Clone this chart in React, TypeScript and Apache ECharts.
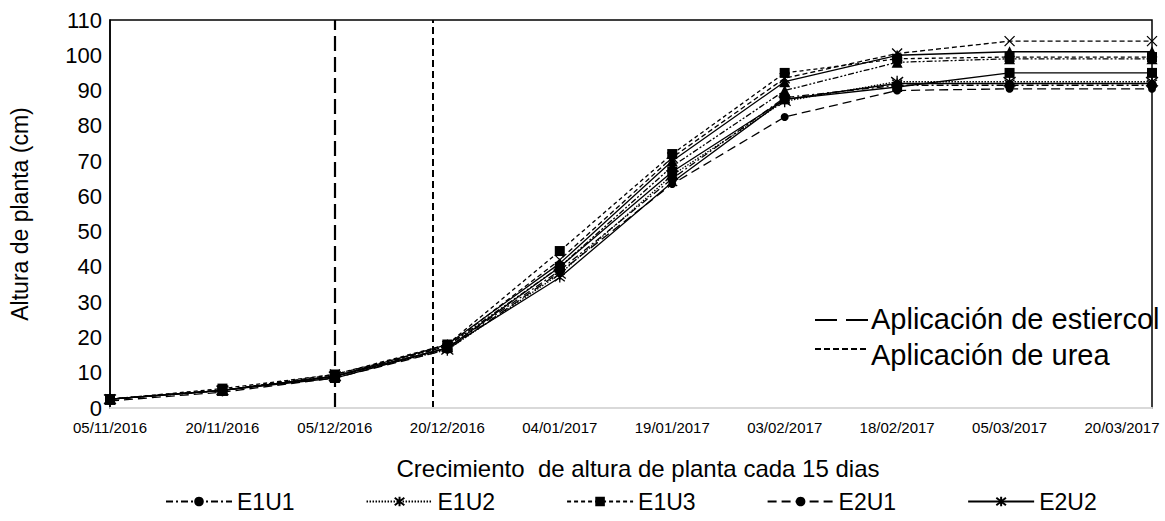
import React, { useEffect, useRef } from "react";
import * as echarts from "echarts";

// ---------- data ----------
const days = [0, 15, 30, 45, 60, 75, 90, 105, 120, 139]; // days since 05/11/2016
const xTickLabels = [
  "05/11/2016", "20/11/2016", "05/12/2016", "20/12/2016", "04/01/2017",
  "19/01/2017", "03/02/2017", "18/02/2017", "05/03/2017", "20/03/2017",
];
const E1U1 = [2.5, 5, 9, 17, 39, 65, 88, 91.5, 91.5, 91.5];
const E1U2 = [2.5, 5, 9, 16.5, 38, 66, 87, 92.5, 92.5, 92.5];
const E1U3 = [2.5, 5.5, 9.5, 18, 44.5, 72, 95, 99, 99.5, 99.5];
const E2U1 = [2, 4.5, 8.5, 16.5, 38.5, 63.5, 82.5, 90, 90.5, 90.5];
const E2U2 = [2.5, 5, 9, 17, 37, 64, 87.5, 92, 92, 92];
const E2U3 = [2.5, 5, 9, 18, 41, 70, 92.5, 100, 101, 101];
const E3U1 = [2.5, 5, 9.5, 17.5, 42, 71, 93.5, 100.5, 104, 104];
const E3U2 = [2.5, 5, 9, 17.5, 40, 68.5, 90, 98, 99, 99];
const E3U3 = [2.5, 5, 8.5, 17, 40, 67, 87.5, 91, 95, 95];
const seriesNames = ["E1U1", "E1U2", "E1U3", "E2U1", "E2U2", "E2U3", "E3U1", "E3U2", "E3U3"];
const seriesValues = [E1U1, E1U2, E1U3, E2U1, E2U2, E2U3, E3U1, E3U2, E3U3];
const legendNames = ["E1U1", "E1U2", "E1U3", "E2U1", "E2U2"];
const manureDay = [30]; // 05/12/2016
const ureaDay = [43]; // ~18/12/2016
const yMin = 0, yMax = 110, yStep = 10;

// ---------- styles ----------
const FONT = "'Liberation Sans', Arial, sans-serif";
const ASTER = "path://M0,0L10,10M10,0L0,10M5,-1.5L5,11.5";
const XMARK = "path://M0,0L10,10M10,0L0,10";
const styles: any[] = [
  { type: [7, 3, 2, 3], width: 1.3, symbol: "circle", size: 10, open: false },
  { type: [1.5, 1.5], width: 1.3, symbol: ASTER, size: 12, open: true },
  { type: [4, 3], width: 1.3, symbol: "rect", size: 10, open: false },
  { type: [9, 5], width: 1.3, symbol: "circle", size: 8, open: false },
  { type: "solid", width: 1.3, symbol: ASTER, size: 10, open: true },
  { type: "solid", width: 1.3, symbol: "triangle", size: 11, open: false },
  { type: [5, 3], width: 1.3, symbol: XMARK, size: 10, open: true },
  { type: [6, 2, 2, 2, 2, 2], width: 1.3, symbol: "triangle", size: 11, open: false },
  { type: "solid", width: 1.3, symbol: "rect", size: 10, open: false },
];

export default function App() {
  const ref = useRef<HTMLDivElement>(null);
  useEffect(() => {
    document.body.style.margin = "0";
    const chart = echarts.init(ref.current!, null, { renderer: "svg" });
    const series: any[] = seriesNames.map((name, i) => {
      const st = styles[i];
      return {
        name,
        type: "line",
        data: days.map((d, j) => [d, seriesValues[i][j]]),
        symbol: st.symbol,
        symbolSize: st.size,
        showAllSymbol: true,
        lineStyle: { color: "#000", width: st.width, type: st.type },
        itemStyle: st.open
          ? { color: "#000", borderColor: "#000", borderWidth: 1.3 }
          : { color: "#000", borderWidth: 0 },
        z: 3,
      };
    });
    series.push({
      name: "ref",
      type: "line",
      data: [],
      silent: true,
      markLine: {
        silent: true,
        symbol: ["none", "none"],
        label: { show: false },
        data: [
          ...manureDay.map((d) => ({ xAxis: d, lineStyle: { color: "#000", width: 2.2, type: [15, 6] } })),
          ...ureaDay.map((d) => ({ xAxis: d, lineStyle: { color: "#000", width: 2, type: [7, 4] } })),
        ],
      },
    });
    chart.setOption({
      animation: false,
      backgroundColor: "#fff",
      textStyle: { fontFamily: FONT, color: "#000" },
      grid: {
        left: 108, right: 13, top: 20, bottom: 113,
        show: true, borderColor: "#000", borderWidth: 1.5, z: -1,
      },
      xAxis: {
        type: "value",
        min: days[0],
        max: days[days.length - 1],
        interval: 15,
        z: 10,
        axisLine: { show: true, lineStyle: { color: "#d9d9d9", width: 2 } },
        axisTick: { show: false },
        splitLine: { show: false },
        axisLabel: {
          fontSize: 15, color: "#000", margin: 12, fontFamily: FONT,
          showMaxLabel: false,
          formatter: (v: number) => (v % 15 === 0 && xTickLabels[v / 15]) ? xTickLabels[v / 15] : "",
        },
        name: "Crecimiento  de altura de planta cada 15 dias",
        nameLocation: "middle",
        nameGap: 48,
        nameTextStyle: { fontSize: 24, color: "#000", fontFamily: FONT, padding: [0, 0, 0, 14] },
      },
      yAxis: {
        type: "value",
        min: yMin, max: yMax, interval: yStep,
        axisLine: { show: true, lineStyle: { color: "#000", width: 1.5 } },
        axisTick: { show: false },
        splitLine: { show: false },
        axisLabel: { fontSize: 22, color: "#000", margin: 8, fontFamily: FONT },
        name: "Altura de planta (cm)",
        nameLocation: "middle",
        nameGap: 79,
        nameTextStyle: { fontSize: 23, color: "#000", fontFamily: FONT },
      },
      legend: {
        data: legendNames,
        left: 160,
        top: 485,
        itemWidth: 66,
        itemHeight: 12,
        itemGap: 71,
        textStyle: { fontSize: 23, color: "#000", fontFamily: FONT },
      },
      graphic: [
        { type: "line", shape: { x1: 815, y1: 320, x2: 868, y2: 320 }, style: { stroke: "#000", lineWidth: 2.2, lineDash: [22, 9] } },
        { type: "text", left: 871, top: 304, style: { text: "Aplicación de estiercol", font: `29px ${FONT}`, fill: "#000" } },
        { type: "line", shape: { x1: 815, y1: 349, x2: 868, y2: 349 }, style: { stroke: "#000", lineWidth: 2, lineDash: [6, 3] } },
        { type: "text", left: 871, top: 340, style: { text: "Aplicación de urea", font: `29px ${FONT}`, fill: "#000" } },
      ],
      series,
    });
    return () => chart.dispose();
  }, []);
  return <div ref={ref} style={{ width: 1165, height: 521 }} />;
}
